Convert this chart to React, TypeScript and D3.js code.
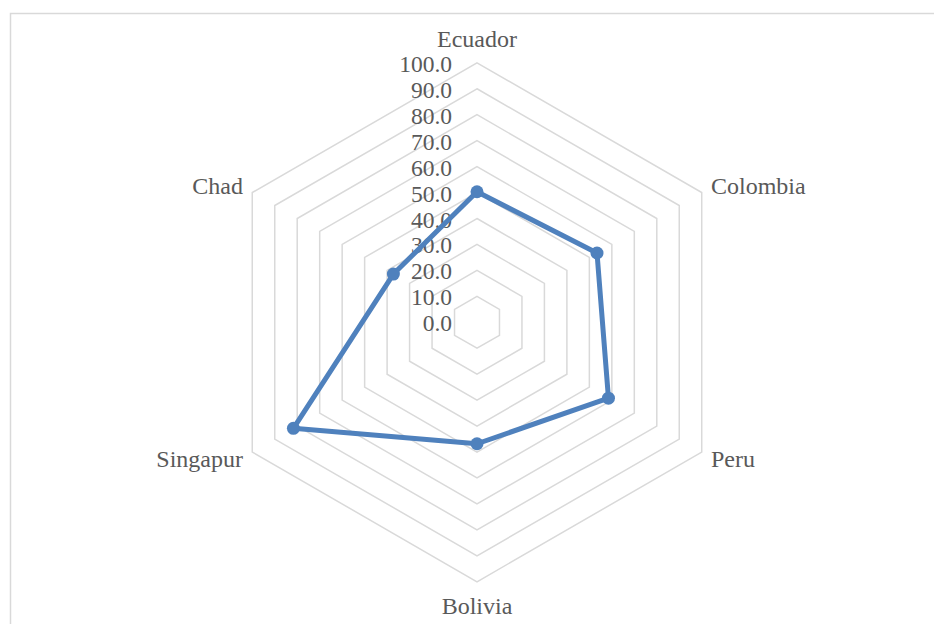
import React from "react";
import * as d3 from "d3";

const categories = ["Ecuador", "Colombia", "Peru", "Bolivia", "Singapur", "Chad"];
const values = [50.3, 53.4, 58.5, 46.8, 81.7, 37.2];
const tickValues = [0, 10, 20, 30, 40, 50, 60, 70, 80, 90, 100];

const W = 934;
const H = 624;
const cx = 477;
const cy = 322.3;
const R = 259.5;

export default function App() {
  const r = d3.scaleLinear().domain([0, 100]).range([0, R]);
  const angle = (i: number) => (i * 2 * Math.PI) / categories.length;
  const pt = (i: number, v: number): [number, number] => [
    cx + r(v) * Math.sin(angle(i)),
    cy - r(v) * Math.cos(angle(i)),
  ];
  const ringPath = (v: number) =>
    d3
      .line<number>()
      .x((_, i) => pt(i, v)[0])
      .y((_, i) => pt(i, v)[1])
      .curve(d3.curveLinearClosed)(categories.map(() => v)) as string;
  const dataPath = d3
    .line<number>()
    .x((d, i) => pt(i, d)[0])
    .y((d, i) => pt(i, d)[1])
    .curve(d3.curveLinearClosed)(values) as string;

  const labelPos = [
    { x: cx, y: 47, anchor: "middle" },
    { x: 711, y: 194, anchor: "start" },
    { x: 711, y: 467, anchor: "start" },
    { x: cx, y: 614, anchor: "middle" },
    { x: 243, y: 467, anchor: "end" },
    { x: 243, y: 194, anchor: "end" },
  ];

  const font = "Liberation Serif";

  return (
    <svg
      width={W}
      height={H}
      style={{ position: "absolute", left: 0, top: 0, background: "#fff" }}
    >
      <rect x={10.5} y={13.5} width={1000} height={800} fill="#fff" stroke="#d9d9d9" strokeWidth={1.5} />
      {tickValues.slice(1).map((t) => (
        <path key={t} d={ringPath(t)} fill="none" stroke="#d9d9d9" strokeWidth={1.5} />
      ))}
      {tickValues.map((t) => (
        <text
          key={"t" + t}
          x={452}
          y={cy - r(t) + 9}
          textAnchor="end"
          fontFamily={font}
          fontSize={23.5}
          fill="#595959"
        >
          {t.toFixed(1)}
        </text>
      ))}
      {categories.map((c, i) => (
        <text
          key={c}
          x={labelPos[i].x}
          y={labelPos[i].y}
          textAnchor={labelPos[i].anchor as any}
          fontFamily={font}
          fontSize={24}
          fill="#595959"
        >
          {c}
        </text>
      ))}
      <path d={dataPath} fill="none" stroke="#4f81bd" strokeWidth={5} strokeLinejoin="round" />
      {values.map((v, i) => {
        const [x, y] = pt(i, v);
        return <circle key={i} cx={x} cy={y} r={6.5} fill="#4f81bd" />;
      })}
    </svg>
  );
}
